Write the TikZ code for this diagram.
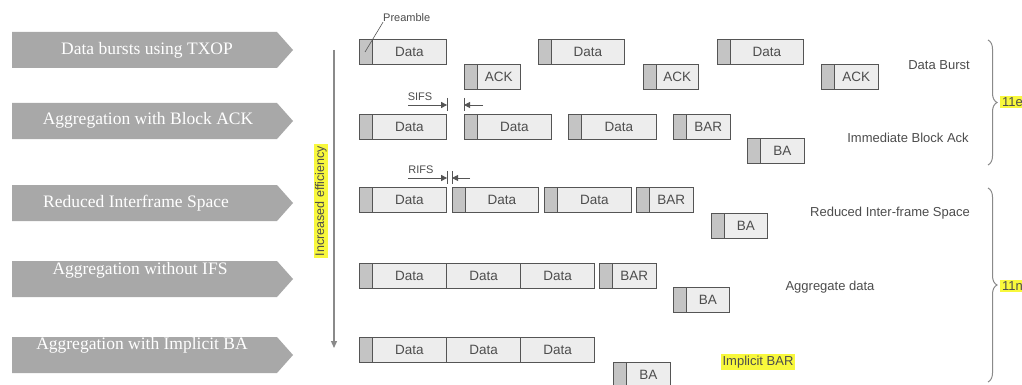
\documentclass[tikz,border=0pt]{standalone}
\usepackage{fontspec}
\setmainfont{Liberation Sans}
\newfontfamily\mechfont{Liberation Serif}
\usetikzlibrary{arrows.meta,calc,decorations.pathreplacing}

\definecolor{mechfill}{HTML}{A8A8A8}
\definecolor{framefill}{HTML}{EDEDED}
\definecolor{prefill}{HTML}{C4C4C4}
\definecolor{frameline}{HTML}{555555}
\definecolor{inktext}{HTML}{4D4D4D}
\definecolor{axisgray}{HTML}{8A8A8A}
\definecolor{hilite}{HTML}{F8F83C}

% grey pointed banner with a serif caption
\newcommand\mechbar[5]{%
  \fill[mechfill] (12,#2) -- (277,#2) -- (293,#2+18) -- (277,#2+36) -- (12,#2+36) -- cycle;
  \node[mechtext] (#1) at (#3,#4) {#5};
}

\begin{document}
\begin{tikzpicture}[x=1pt,y=-1pt,
  mechtext/.style={text=white, font=\mechfont\fontsize{17.5}{18}\selectfont, inner sep=0pt},
  pkt/.style={draw=frameline, fill=framefill, line width=1.1pt, minimum height=25pt,
    inner sep=0pt, anchor=north west, text=inktext, font=\fontsize{13.5}{13.5}\selectfont,
    path picture={
      \fill[prefill] (path picture bounding box.north west) rectangle ([xshift=12.5pt]path picture bounding box.south west);
      \draw[frameline, line width=1.1pt] ([xshift=12.5pt]path picture bounding box.north west) -- ([xshift=12.5pt]path picture bounding box.south west);
    }},
  barepkt/.style={draw=frameline, fill=framefill, line width=1.1pt, minimum height=25pt,
    inner sep=0pt, anchor=north west, text=inktext, font=\fontsize{13.5}{13.5}\selectfont},
  caption/.style={text=inktext, font=\fontsize{13}{13}\selectfont, inner sep=0pt},
  small/.style={text=inktext, font=\fontsize{11}{11}\selectfont, inner sep=0pt},
  gap/.style={draw=frameline, line width=0.9pt, -{Triangle[length=6pt,width=6pt]}},
  tick/.style={draw=frameline, line width=0.9pt},
  hl/.style={fill=hilite, inner sep=1.5pt},
  bracestyle/.style={draw=axisgray, line width=1pt, decorate, decoration={brace, amplitude=9pt}},
]
\useasboundingbox (0,0) rectangle (1022,385);
\fill[white] (0,0) rectangle (1022,385);

% mechanisms on the left
\mechbar{m1}{32}{147}{50}{Data bursts using TXOP}
\mechbar{m2}{103}{148}{120}{Aggregation with Block ACK}
\mechbar{m3}{185}{136}{203}{Reduced Interframe Space}
\mechbar{m4}{261}{140}{270}{Aggregation without IFS}
\mechbar{m5}{337}{142}{345}{Aggregation with Implicit BA}

% efficiency axis
\coordinate (axTop) at (334,50);
\coordinate (axEnd) at (334,348);
\draw[draw=axisgray, line width=1.3pt, -{Triangle[length=7pt,width=6pt]}] (axTop) -- (axEnd);
\node[hl, rotate=90, text=inktext, font=\fontsize{12.5}{13}\selectfont] (eff) at (321,201) {Increased efficiency};

% row 1: data burst
\node[pkt, minimum width=87pt] (a1) at (359,39) {\hspace*{12.5pt}Data};
\node[pkt, minimum width=56pt] (k1) at (464,64) {\hspace*{12.5pt}ACK};
\node[pkt, minimum width=86pt] (a2) at (538,39) {\hspace*{12.5pt}Data};
\node[pkt, minimum width=55pt] (k2) at (643,64) {\hspace*{12.5pt}ACK};
\node[pkt, minimum width=86pt] (a3) at (717,39) {\hspace*{12.5pt}Data};
\node[pkt, minimum width=57pt] (k3) at (821,64) {\hspace*{12.5pt}ACK};
\node[caption] (t1) at (939,65) {Data Burst};

% preamble callout
\node[small, anchor=west] (pre) at (383,18) {Preamble};
\coordinate (preTip) at (365,52);
\draw[draw=frameline, line width=0.6pt] (pre.south west) -- (preTip);

% row 2: immediate block ack
\node[pkt, minimum width=87pt] (b1) at (359,114) {\hspace*{12.5pt}Data};
\node[pkt, minimum width=87pt] (b2) at (464,114) {\hspace*{12.5pt}Data};
\node[pkt, minimum width=88pt] (b3) at (568,114) {\hspace*{12.5pt}Data};
\node[pkt, minimum width=57pt] (b4) at (673,114) {\hspace*{12.5pt}BAR};
\node[pkt, minimum width=57pt] (b5) at (747,138) {\hspace*{12.5pt}BA};
\node[caption] (t2) at (908,138) {Immediate Block Ack};

\node[small] (sifs) at (420,97) {SIFS};
\coordinate (sifsL) at (408,105);
\coordinate (sifsR) at (483,105);
\draw[tick] ($(b1.north east)+(0,-16)$) -- ($(b1.north east)+(0,-3)$);
\draw[tick] ($(b2.north west)+(0,-16)$) -- ($(b2.north west)+(0,-3)$);
\draw[gap] (sifsL) -- (sifsL -| b1.east);
\draw[gap] (sifsR) -- (sifsR -| b2.west);

% row 3: reduced inter-frame space
\node[pkt, minimum width=87pt] (c1) at (359,187) {\hspace*{12.5pt}Data};
\node[pkt, minimum width=86pt] (c2) at (452,187) {\hspace*{12.5pt}Data};
\node[pkt, minimum width=87pt] (c3) at (544,187) {\hspace*{12.5pt}Data};
\node[pkt, minimum width=57pt] (c4) at (636,187) {\hspace*{12.5pt}BAR};
\node[pkt, minimum width=56pt] (c5) at (711,213) {\hspace*{12.5pt}BA};
\node[caption] (t3) at (890,213) {Reduced Inter-frame Space};

\node[small] (rifs) at (421,170) {RIFS};
\coordinate (rifsL) at (408,178);
\coordinate (rifsR) at (470,178);
\draw[tick] ($(c1.north east)+(0,-16)$) -- ($(c1.north east)+(0,-3)$);
\draw[tick] ($(c2.north west)+(0,-16)$) -- ($(c2.north west)+(0,-3)$);
\draw[gap] (rifsL) -- (rifsL -| c1.east);
\draw[gap] (rifsR) -- (rifsR -| c2.west);

% row 4: aggregate data
\node[pkt, minimum width=87pt] (d1) at (359,263) {\hspace*{12.5pt}Data};
\node[barepkt, minimum width=74pt] (d2) at (446,263) {Data};
\node[barepkt, minimum width=74pt] (d3) at (520,263) {Data};
\node[pkt, minimum width=57pt] (d4) at (599,263) {\hspace*{12.5pt}BAR};
\node[pkt, minimum width=56pt] (d5) at (673,287) {\hspace*{12.5pt}BA};
\node[caption] (t4) at (830,287) {Aggregate data};

% row 5: implicit block ack request
\node[pkt, minimum width=87pt] (e1) at (359,337) {\hspace*{12.5pt}Data};
\node[barepkt, minimum width=74pt] (e2) at (446,337) {Data};
\node[barepkt, minimum width=74pt] (e3) at (520,337) {Data};
\node[pkt, minimum width=57pt] (e4) at (613,362) {\hspace*{12.5pt}BA};
\node[caption, hl] (t5) at (758,362) {Implicit BAR};

% standard groupings
\draw[bracestyle] (988,40) -- (988,165);
\draw[bracestyle] (988,188) -- (988,382);
\node[hl, anchor=west, text=inktext, font=\fontsize{13}{13}\selectfont, inner xsep=2pt] (g1) at (1000,102) {11e};
\node[hl, anchor=west, text=inktext, font=\fontsize{13}{13}\selectfont, inner xsep=2pt] (g2) at (1000,286) {11n};
\end{tikzpicture}
\end{document}
